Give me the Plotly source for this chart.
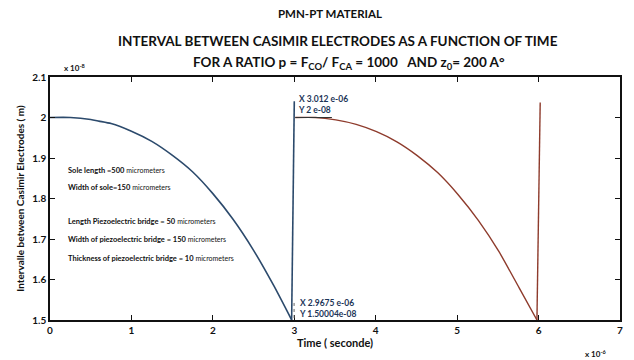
import plotly.graph_objects as go

# Gap between the Casimir electrodes (units of 1e-8 m) against time (units of 1e-6 s)
# First cycle: closing from 2.0 down to 1.5, then the jump back
blue_t = [0.0, 0.25, 0.5, 0.6, 0.75, 1.0, 1.25, 1.5, 1.75, 2.0, 2.25, 2.5, 2.75, 2.9675]
blue_y = [2.0, 2.0, 1.995, 1.991, 1.985, 1.966, 1.941, 1.907, 1.866, 1.812, 1.748, 1.672, 1.584, 1.50004]
blue_jump_t = [2.9675, 3.0]
blue_jump_y = [1.50004, 2.04]

# Second cycle
brown_t = [3.012, 3.26, 3.51, 3.76, 4.01, 4.26, 4.51, 4.76, 5.01, 5.26, 5.51, 5.76, 5.98]
brown_y = [2.0, 2.0, 1.994, 1.983, 1.965, 1.94, 1.906, 1.864, 1.81, 1.746, 1.67, 1.58, 1.5]
brown_jump_t = [5.98, 6.02]
brown_jump_y = [1.5, 2.037]

x_ticks = [0, 1, 2, 3, 4, 5, 6, 7]
y_ticks = [1.5, 1.6, 1.7, 1.8, 1.9, 2.0, 2.1]
y_tick_text = ["1.5", "1.6", "1.7", "1.8", "1.9", "2", "2.1"]

notes = [
    ("Sole length =500", 1.870),
    ("Width of sole=150", 1.828),
    ("Length Piezoelectric bridge = 50", 1.744),
    ("Width of piezoelectric bridge = 150", 1.698),
    ("Thickness of piezoelectric bridge = 10", 1.653),
]

BLUE = "#2c4a6c"
BROWN = "#8e3b2c"
TIP = "#1d3557"
FONT = "Lato"

# plot area in pixels (used to place the page titles above it)
W, H = 634, 360
ML, MR, MT, MB = 50, 11, 77, 40
PW, PH = W - ML - MR, H - MT - MB


def paper_xy(px, py):
    return (px - ML) / PW, (H - MB - py) / PH


fig = go.Figure()
fig.add_trace(go.Scatter(x=blue_t, y=blue_y, mode="lines",
                         line=dict(color=BLUE, width=1.6, shape="spline", smoothing=0.6)))
fig.add_trace(go.Scatter(x=blue_jump_t, y=blue_jump_y, mode="lines",
                         line=dict(color=BLUE, width=1.6)))
fig.add_trace(go.Scatter(x=brown_t, y=brown_y, mode="lines",
                         line=dict(color=BROWN, width=1.4, shape="spline", smoothing=0.6)))
fig.add_trace(go.Scatter(x=brown_jump_t, y=brown_jump_y, mode="lines",
                         line=dict(color=BROWN, width=1.4)))

# data tip underline at the start of the second cycle
fig.add_shape(type="line", x0=brown_t[0], x1=brown_t[0] + 0.45, y0=brown_y[0], y1=brown_y[0],
              line=dict(color="#333333", width=1))
# data tip stem at the bottom of the first cycle
fig.add_shape(type="line", x0=blue_t[-1] + 0.03, x1=blue_t[-1] + 0.03,
              y0=blue_y[-1] + 0.005, y1=blue_y[-1] + 0.045,
              line=dict(color="#666666", width=1, dash="dot"))

fig.add_annotation(x=brown_t[0], y=brown_y[0], xref="x", yref="y",
                   text="<b>X 3.012 e-06</b><br><b>Y 2 e-08</b>",
                   showarrow=False, xanchor="left", yanchor="bottom", align="left",
                   xshift=1, yshift=1, font=dict(family=FONT, size=8.5, color=TIP))
fig.add_annotation(x=blue_t[-1], y=blue_y[-1], xref="x", yref="y",
                   text="<b>X 2.9675 e-06</b><br><b>Y 1.50004e-08</b>",
                   showarrow=False, xanchor="left", yanchor="bottom", align="left",
                   xshift=5, yshift=-1, font=dict(family=FONT, size=8.5, color=TIP))

for label, yv in notes:
    fig.add_annotation(x=0.2, y=yv, xref="x", yref="y",
                       text=f"<b>{label}</b> <span style='font-size:7px'>micrometers</span>",
                       showarrow=False, xanchor="left", yanchor="middle",
                       font=dict(family=FONT, size=7.5, color="#111111"))

# titles: (text, centre x px, centre y px, font size)
titles = [
    ("PMN-PT MATERIAL", 331, 14, 11.5),
    ("INTERVAL BETWEEN CASIMIR ELECTRODES AS A FUNCTION OF TIME", 340, 41, 13.5),
    ("FOR A RATIO p = F<sub>CO</sub>/ F<sub>CA</sub> = 1000   AND z<sub>0</sub>= 200 A°", 351, 63, 13.5),
]
for text, px, py, size in titles:
    ax, ay = paper_xy(px, py)
    fig.add_annotation(x=ax, y=ay, xref="paper", yref="paper",
                       text=f"<b>{text}</b>", showarrow=False,
                       xanchor="center", yanchor="middle",
                       font=dict(family=FONT, size=size, color="#111111"))

# axis multipliers
fig.add_annotation(x=0.0, y=1.0, xref="paper", yref="paper", text="<b>x 10<sup>-8</sup></b>",
                   showarrow=False, xanchor="left", yanchor="bottom", xshift=12, yshift=2,
                   font=dict(family=FONT, size=8, color="#111111"))
fig.add_annotation(x=1.0, y=0.0, xref="paper", yref="paper", text="<b>x 10<sup>-6</sup></b>",
                   showarrow=False, xanchor="right", yanchor="top", xshift=-12, yshift=-26,
                   font=dict(family=FONT, size=8, color="#111111"))

axis_common = dict(showgrid=False, zeroline=False, showline=True, linecolor="#111111",
                   linewidth=1.5, mirror="ticks", ticks="inside", ticklen=5,
                   tickcolor="#111111", tickwidth=1.2,
                   tickfont=dict(family=FONT, size=10, color="#111111"))

fig.update_xaxes(range=[0, 7], tickvals=x_ticks, ticktext=[f"<b>{v}</b>" for v in x_ticks],
                 title=dict(text="<b>Time ( seconde)</b>", standoff=4,
                            font=dict(family=FONT, size=11, color="#111111")),
                 **axis_common)
fig.update_yaxes(range=[1.5, 2.1], tickvals=y_ticks, ticktext=[f"<b>{t}</b>" for t in y_tick_text],
                 title=dict(text="<b>Intervalle between Casimir Electrodes ( m)</b>", standoff=6,
                            font=dict(family=FONT, size=10, color="#111111")),
                 **axis_common)

fig.update_layout(width=W, height=H, showlegend=False,
                  margin=dict(l=ML, r=MR, t=MT, b=MB),
                  plot_bgcolor="white", paper_bgcolor="white")

fig.write_html("out.html")
